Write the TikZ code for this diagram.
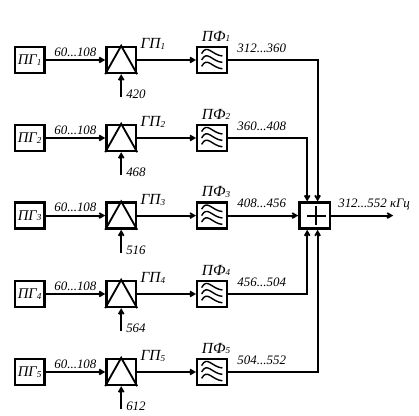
\documentclass[tikz,border=0pt]{standalone}
\usepackage{fontspec}
\setmainfont{Liberation Serif}
\usetikzlibrary{arrows.meta,positioning,calc}

\tikzset{
    blk/.style={draw, line width=1.7pt, minimum width=0.74cm, minimum height=0.65cm, inner sep=0pt, font=\itshape\fontsize{10.5}{11}\selectfont},
    lbl/.style={inner sep=0pt, font=\itshape\fontsize{9.2}{10}\selectfont},
    nam/.style={inner sep=0pt, font=\itshape\fontsize{11}{12}\selectfont},
    arr/.style={-{Straight Barb[length=3pt,width=3.5pt]}, line width=1.3pt},
    wire/.style={line width=1.3pt}
}
\newcommand{\subn}[1]{{\fontsize{6.5}{6}\selectfont\raisebox{-0.15ex}{#1}}}

\begin{document}
\begin{tikzpicture}
\useasboundingbox (0,0) rectangle (10.475,10.4);
\foreach \n/\y/\lo/\hi/\fc in {1/8.9/312/360/420, 2/6.95/360/408/468, 3/5.01/408/456/516, 4/3.05/456/504/564, 5/1.1/504/552/612} {
    \node[blk] (pg\n) at (0.74,\y) {ПГ\subn{\n}};
    \node[blk] (gp\n) at (3.03,\y) {};
    \node[blk] (pf\n) at (5.3,\y) {};
    \draw[wire] (gp\n.south west) -- (gp\n.north) -- (gp\n.south east);
    % filter waves
    \foreach \d in {-0.16,0,0.16} {
        \draw[line width=1pt] ($(pf\n.center)+(-0.26,\d)$) .. controls +(0.14,0.26) and +(-0.26,0.02) .. ($(pf\n.center)+(0.26,\d-0.06)$);
    }
    \draw[arr] (pg\n) -- node[lbl, above=2pt] {60...108} (gp\n);
    \draw[arr] (gp\n) -- (pf\n);
    \coordinate (fc\n) at ($(gp\n.south)+(0,-0.58)$);
    \draw[arr] (fc\n) -- (gp\n.south);
    \node[lbl, right=0.12cm of fc\n, yshift=0.07cm] (fl\n) {\fc};
    \node[nam, anchor=west] (gl\n) at ($(gp\n.north east)+(0.08,0.04)$) {ГП\subn{\n}};
    \node[nam, above=0.09cm of pf\n.north, xshift=0.1cm] (fn\n) {ПФ\subn{\n}};
    \node[lbl, anchor=west] (rng\n) at ($(pf\n.east)+(0.23,0.3)$) {\lo...\hi};
}
\node[blk, minimum width=0.77cm] (sum) at (7.87,5.01) {};
\draw[wire] ($(sum.center)+(-0.19,0)$) -- ($(sum.center)+(0.27,0)$);
\draw[wire] ($(sum.center)+(0.04,-0.23)$) -- ($(sum.center)+(0.04,0.23)$);
\coordinate (out) at (9.83,5.01);
\draw[arr] (pf3) -- (sum);
\draw[arr] (sum) -- (out);
\node[lbl, anchor=west] (outl) at (8.45,5.28) {312...552 кГц};
\draw[arr] (pf1.east) -| ($(sum.north)+(0.07,0)$);
\draw[arr] (pf2.east) -| ($(sum.north)+(-0.19,0)$);
\draw[arr] (pf4.east) -| ($(sum.south)+(-0.19,0)$);
\draw[arr] (pf5.east) -| ($(sum.south)+(0.07,0)$);
\end{tikzpicture}
\end{document}
